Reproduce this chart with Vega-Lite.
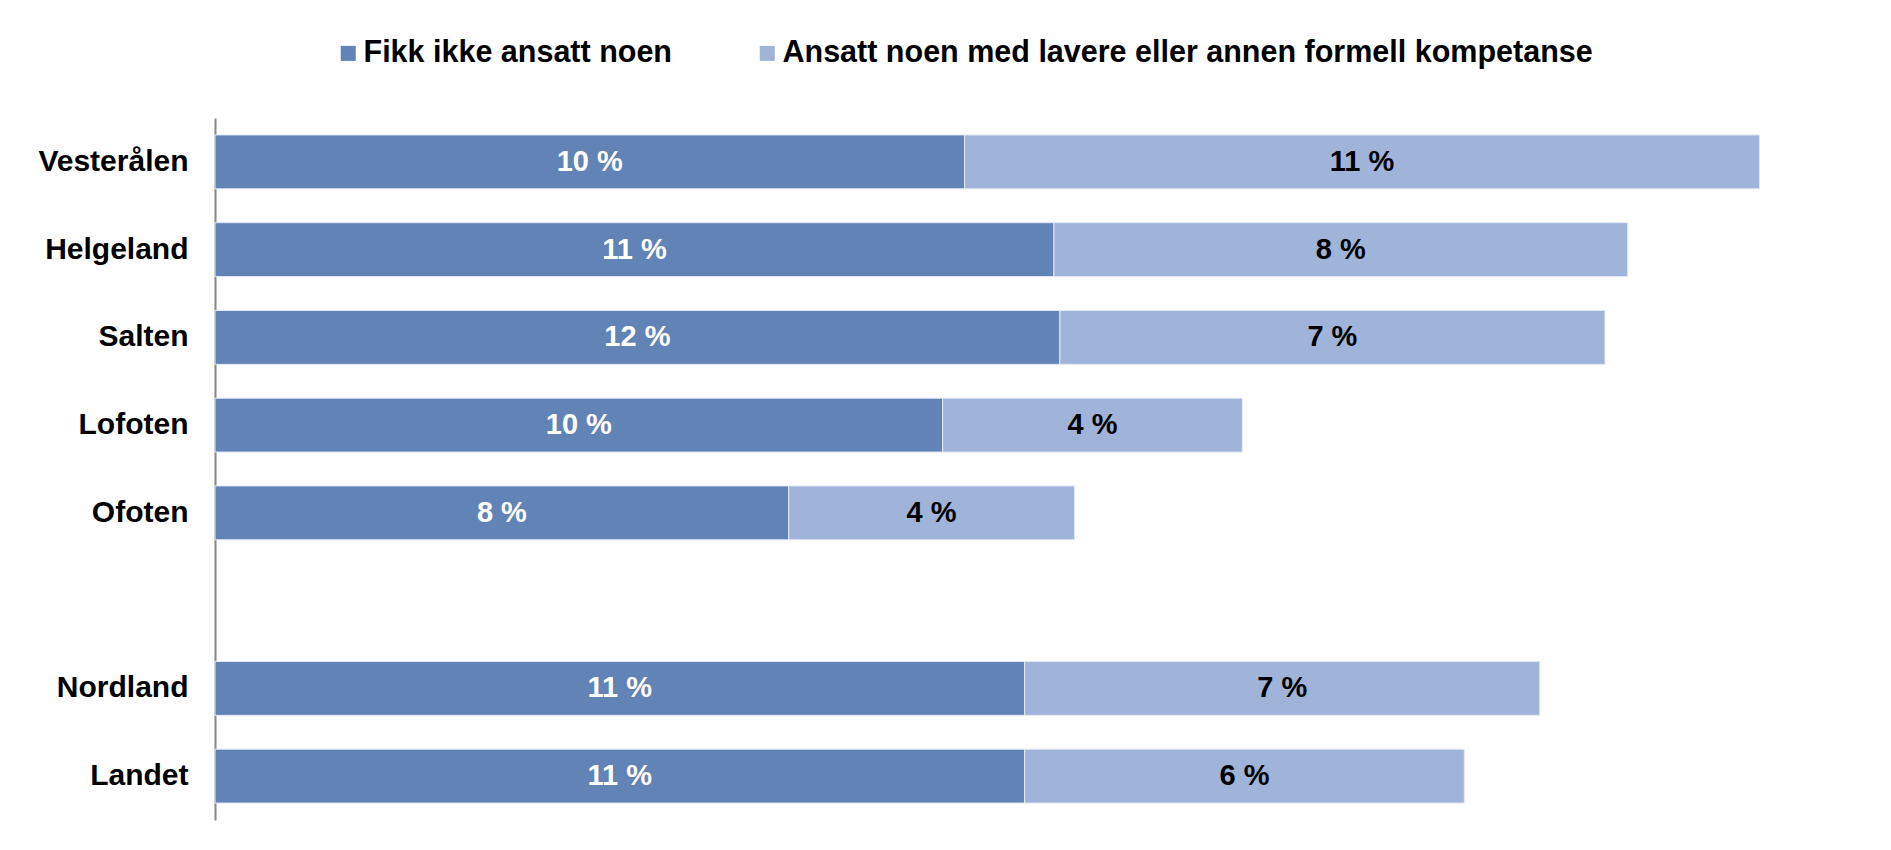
{
  "$schema": "https://vega.github.io/schema/vega-lite/v6.json",
  "width": 1612,
  "height": 702,
  "autosize": {"type": "none"},
  "padding": {"left": 215, "top": 118, "right": 64, "bottom": 30},
  "background": "white",
  "config": {
    "view": {"stroke": null},
    "font": "Liberation Sans"
  },
  "data": {
    "values": [
      {"region": "Vesterålen", "series": "Fikk ikke ansatt noen", "k": 1, "value": 10.23, "label": "10 %"},
      {"region": "Vesterålen", "series": "Ansatt noen med lavere eller annen formell kompetanse", "k": 2, "value": 10.85, "label": "11 %"},
      {"region": "Helgeland", "series": "Fikk ikke ansatt noen", "k": 1, "value": 11.45, "label": "11 %"},
      {"region": "Helgeland", "series": "Ansatt noen med lavere eller annen formell kompetanse", "k": 2, "value": 7.83, "label": "8 %"},
      {"region": "Salten", "series": "Fikk ikke ansatt noen", "k": 1, "value": 11.53, "label": "12 %"},
      {"region": "Salten", "series": "Ansatt noen med lavere eller annen formell kompetanse", "k": 2, "value": 7.44, "label": "7 %"},
      {"region": "Lofoten", "series": "Fikk ikke ansatt noen", "k": 1, "value": 9.93, "label": "10 %"},
      {"region": "Lofoten", "series": "Ansatt noen med lavere eller annen formell kompetanse", "k": 2, "value": 4.09, "label": "4 %"},
      {"region": "Ofoten", "series": "Fikk ikke ansatt noen", "k": 1, "value": 7.83, "label": "8 %"},
      {"region": "Ofoten", "series": "Ansatt noen med lavere eller annen formell kompetanse", "k": 2, "value": 3.9, "label": "4 %"},
      {"region": "Nordland", "series": "Fikk ikke ansatt noen", "k": 1, "value": 11.05, "label": "11 %"},
      {"region": "Nordland", "series": "Ansatt noen med lavere eller annen formell kompetanse", "k": 2, "value": 7.03, "label": "7 %"},
      {"region": "Landet", "series": "Fikk ikke ansatt noen", "k": 1, "value": 11.05, "label": "11 %"},
      {"region": "Landet", "series": "Ansatt noen med lavere eller annen formell kompetanse", "k": 2, "value": 6.0, "label": "6 %"}
    ]
  },
  "transform": [
    {"stack": "value", "groupby": ["region"], "sort": [{"field": "k", "order": "ascending"}], "as": ["v0", "v1"]},
    {"calculate": "(datum.v0 + datum.v1) / 2", "as": "mid"}
  ],
  "encoding": {
    "y": {
      "field": "region",
      "type": "nominal",
      "scale": {
        "domain": ["Vesterålen", "Helgeland", "Salten", "Lofoten", "Ofoten", " ", "Nordland", "Landet"],
        "paddingInner": 0.386,
        "paddingOuter": 0.193
      },
      "axis": {
        "title": null,
        "ticks": false,
        "labelFont": "Liberation Sans",
        "labelFontSize": 30,
        "labelFontWeight": "bold",
        "labelColor": "black",
        "labelPadding": 27,
        "domainColor": "#868686",
        "domainWidth": 2,
        "grid": false
      }
    }
  },
  "layer": [
    {
      "mark": {"type": "bar", "stroke": "#e4e9f3", "strokeWidth": 1},
      "encoding": {
        "x": {"field": "v0", "type": "quantitative", "scale": {"domain": [0, 22], "nice": false}, "axis": null},
        "x2": {"field": "v1"},
        "color": {
          "field": "series",
          "type": "nominal",
          "scale": {
            "domain": ["Fikk ikke ansatt noen", "Ansatt noen med lavere eller annen formell kompetanse"],
            "range": ["#6183b6", "#a0b3d9"]
          },
          "legend": {
            "title": null,
            "orient": "none",
            "direction": "horizontal",
            "legendX": 118,
            "legendY": -80,
            "padding": 0,
            "symbolType": "square",
            "symbolSize": 225,
            "symbolStrokeWidth": 0,
            "labelFont": "Liberation Sans",
            "labelFontSize": 30.5,
            "labelFontWeight": "bold",
            "labelColor": "black",
            "labelOffset": 0,
            "labelLimit": 1000,
            "columnPadding": 80
          }
        }
      }
    },
    {
      "mark": {"type": "text", "font": "Liberation Sans", "fontSize": 29, "fontWeight": "bold", "baseline": "middle", "align": "center"},
      "encoding": {
        "x": {"field": "mid", "type": "quantitative"},
        "text": {"field": "label"},
        "color": {
          "condition": {"test": "datum.k === 1", "value": "white"},
          "value": "black"
        }
      }
    }
  ]
}
